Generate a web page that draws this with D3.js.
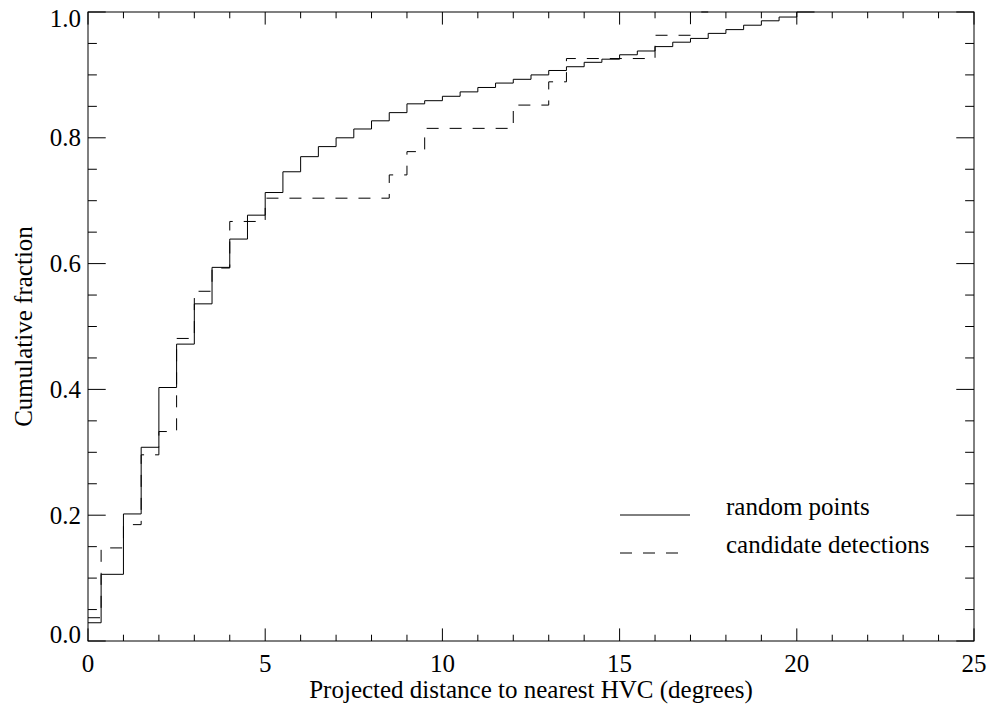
<!DOCTYPE html>
<html>
<head>
<meta charset="utf-8">
<script src="https://cdn.jsdelivr.net/npm/d3@7"></script>
<style>
  html, body { margin: 0; padding: 0; background: #fff; }
  svg { display: block; }
  text { font-family: "Liberation Serif", "Times New Roman", serif; fill: #000; }
</style>
</head>
<body>
<svg id="chart" width="993" height="713"></svg>
<script>
// ---- data ----
const xTickValues = [0, 5, 10, 15, 20, 25];
const xTickLabels = ["0", "5", "10", "15", "20", "25"];
const yTickValues = [0.0, 0.2, 0.4, 0.6, 0.8, 1.0];
const yTickLabels = ["0.0", "0.2", "0.4", "0.6", "0.8", "1.0"];

// random points: step edges (degrees) and cumulative fraction within each step
const randomEdges = [0, 0.37, 1.0, 1.5, 2.0, 2.5, 3.0, 3.5, 4.0, 4.5, 5.0, 5.5, 6.0, 6.5, 7.0, 7.5, 8.0, 8.5, 9.0, 9.5, 10.0,
  10.5, 11.0, 11.5, 12.0, 12.5, 13.0, 13.5, 14.0, 14.5, 15.0, 15.5, 16.0, 16.5, 17.0, 17.5, 18.0, 18.5, 19.0, 19.5, 20.0, 20.5];
const randomValues = [0.029, 0.106, 0.202, 0.308, 0.403, 0.472, 0.536, 0.594, 0.639, 0.677, 0.713, 0.746, 0.770, 0.786, 0.800,
  0.814, 0.827, 0.840, 0.854, 0.859, 0.866, 0.873, 0.880, 0.887, 0.893, 0.900, 0.907, 0.913, 0.920, 0.925, 0.932, 0.938,
  0.945, 0.952, 0.958, 0.966, 0.972, 0.979, 0.986, 0.992, 1.000];

// candidate detections
const candEdges = [0, 0.37, 1.0, 1.5, 2.0, 2.5, 3.0, 3.5, 4.0, 5.0, 8.5, 9.0, 9.5, 12.0, 13.0, 13.5, 16.0, 17.0, 17.5];
const candValues = [0.037, 0.148, 0.185, 0.296, 0.333, 0.481, 0.556, 0.593, 0.667, 0.704, 0.741, 0.778, 0.815, 0.852,
  0.889, 0.926, 0.963, 1.000];

const legendLabels = ["random points", "candidate detections"];
const xTitle = "Projected distance to nearest HVC (degrees)";
const yTitle = "Cumulative fraction";

// ---- layout ----
const pL = 88, pR = 974, pT = 12, pB = 641;
const fontSize = 25;
const svg = d3.select("#chart");

const x = d3.scaleLinear().domain([0, 25]).range([pL, pR]);
const y = d3.scaleLinear().domain([0, 1]).range([pB, pT]);

const xMajorLen = 0.02 * (pB - pT), xMinorLen = xMajorLen / 2;
const yMajorLen = 0.02 * (pR - pL), yMinorLen = yMajorLen / 2;

const g = svg.append("g");

// frame
g.append("rect")
  .attr("x", pL).attr("y", pT)
  .attr("width", pR - pL).attr("height", pB - pT)
  .attr("fill", "none").attr("stroke", "#000").attr("stroke-width", 1);

const xMinor = d3.range(0, 26, 1);
const yMinor = d3.range(0, 21, 1).map(d => d * 0.05);

function isMajorX(v) { return Math.abs(v % 5) < 1e-9; }
function isMajorY(v) { return Math.abs(Math.round(v * 5) - v * 5) < 1e-9; }

// x ticks bottom and top
xMinor.forEach(v => {
  const len = isMajorX(v) ? xMajorLen : xMinorLen;
  g.append("line").attr("x1", x(v)).attr("x2", x(v)).attr("y1", pB).attr("y2", pB - len)
    .attr("stroke", "#000").attr("stroke-width", 1);
  g.append("line").attr("x1", x(v)).attr("x2", x(v)).attr("y1", pT).attr("y2", pT + len)
    .attr("stroke", "#000").attr("stroke-width", 1);
});
// y ticks left and right
yMinor.forEach(v => {
  const len = isMajorY(v) ? yMajorLen : yMinorLen;
  g.append("line").attr("x1", pL).attr("x2", pL + len).attr("y1", y(v)).attr("y2", y(v))
    .attr("stroke", "#000").attr("stroke-width", 1);
  g.append("line").attr("x1", pR).attr("x2", pR - len).attr("y1", y(v)).attr("y2", y(v))
    .attr("stroke", "#000").attr("stroke-width", 1);
});

// x tick labels
xTickValues.forEach((v, i) => {
  g.append("text").attr("x", x(v)).attr("y", pB + 31)
    .attr("text-anchor", "middle").attr("font-size", fontSize).text(xTickLabels[i]);
});
// y tick labels (end labels are pulled inside the plot range, as in the reference)
yTickValues.forEach((v, i) => {
  let dy = 8.5;
  if (i === 0) dy = 1.5;
  if (i === yTickValues.length - 1) dy = 15;
  g.append("text").attr("x", pL - 7).attr("y", y(v) + dy)
    .attr("text-anchor", "end").attr("font-size", fontSize).text(yTickLabels[i]);
});

// titles
g.append("text").attr("x", (pL + pR) / 2).attr("y", 698)
  .attr("text-anchor", "middle").attr("font-size", fontSize).text(xTitle);
g.append("text").attr("transform", `translate(32,${(pT + pB) / 2}) rotate(-90)`)
  .attr("text-anchor", "middle").attr("font-size", fontSize).text(yTitle);

// step curves
function stepPoints(edges, values) {
  const pts = values.map((v, i) => [edges[i], v]);
  pts.push([edges[edges.length - 1], values[values.length - 1]]);
  return pts;
}
const line = d3.line().x(d => x(d[0])).y(d => y(d[1])).curve(d3.curveStepAfter);

g.append("path").attr("d", line(stepPoints(randomEdges, randomValues)))
  .attr("fill", "none").attr("stroke", "#000").attr("stroke-width", 1);
g.append("path").attr("d", line(stepPoints(candEdges, candValues)))
  .attr("fill", "none").attr("stroke", "#000").attr("stroke-width", 1)
  .attr("stroke-dasharray", "12,11");

// legend
const legY = [515, 553];
g.append("line").attr("x1", 620).attr("x2", 690).attr("y1", legY[0]).attr("y2", legY[0])
  .attr("stroke", "#000").attr("stroke-width", 1);
g.append("line").attr("x1", 620).attr("x2", 680).attr("y1", legY[1]).attr("y2", legY[1])
  .attr("stroke", "#000").attr("stroke-width", 1).attr("stroke-dasharray", "12,11");
legendLabels.forEach((t, i) => {
  g.append("text").attr("x", 726).attr("y", legY[i]).attr("font-size", fontSize).text(t);
});
</script>
</body>
</html>
